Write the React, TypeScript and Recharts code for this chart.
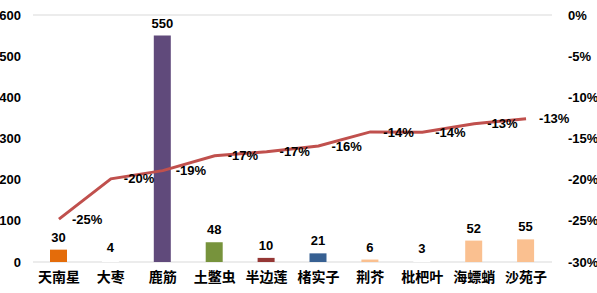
import { ComposedChart, Bar, Line, XAxis, YAxis, CartesianGrid, LabelList, Cell } from 'recharts';

const categories = ['天南星', '大枣', '鹿筋', '土鳖虫', '半边莲', '楮实子', '荆芥', '枇杷叶', '海螵蛸', '沙苑子'];
const counts = [30, 4, 550, 48, 10, 21, 6, 3, 52, 55];
const rates = [-0.248, -0.199, -0.189, -0.171, -0.166, -0.159, -0.142, -0.1425, -0.132, -0.126];
const barColors = ['#E46C0A', '#FFFFFF', '#604A7B', '#77933C', '#953735', '#376092', '#FAC090', '#FFFFFF', '#FAC090', '#FAC090'];
const leftTicks = [0, 100, 200, 300, 400, 500, 600];
const rightTicks = [-0.3, -0.25, -0.2, -0.15, -0.1, -0.05, 0];

const data = categories.map((name, i) => ({ name, count: counts[i], rate: rates[i] }));

const tickFont = { fill: '#000', fontSize: 13, fontWeight: 700, fontFamily: '"Liberation Sans", "Noto Sans CJK SC", sans-serif' };
const catFont = { fill: '#000', fontSize: 14, fontWeight: 700, fontFamily: '"Noto Sans CJK SC", sans-serif' };

const pct = (v: number) => `${Math.round(v * 100)}%`;

export default function App() {
  return (
    <div style={{ position: 'absolute', left: 0, top: 0, background: '#fff' }}>
      <ComposedChart width={597} height={293} data={data} margin={{ top: 15, right: 0, bottom: 0, left: 0 }}>
        <CartesianGrid vertical={false} stroke="#d9d9d9" />
        <XAxis dataKey="name" axisLine={false} tickLine={false} height={31} tick={catFont} interval={0} tickMargin={4} />
        <YAxis yAxisId="left" domain={[0, 600]} ticks={leftTicks} axisLine={false} tickLine={false} width={33} tick={tickFont} tickMargin={6} />
        <YAxis yAxisId="right" orientation="right" domain={[-0.3, 0]} ticks={rightTicks} tickFormatter={pct}
          axisLine={false} tickLine={false} width={45} tick={{ ...tickFont, textAnchor: 'start' }} tickMargin={10} />
        <Bar yAxisId="left" dataKey="count" barSize={17} isAnimationActive={false}>
          {data.map((d, i) => (
            <Cell key={d.name} fill={barColors[i]} />
          ))}
          <LabelList dataKey="count" position="top" offset={8} style={{ ...tickFont }} />
        </Bar>
        <Line yAxisId="right" dataKey="rate" stroke="#C0504D" strokeWidth={3} dot={false} isAnimationActive={false}>
          <LabelList dataKey="rate" position="right" offset={13} formatter={(v: number) => pct(v)} style={{ ...tickFont }} />
        </Line>
      </ComposedChart>
    </div>
  );
}
